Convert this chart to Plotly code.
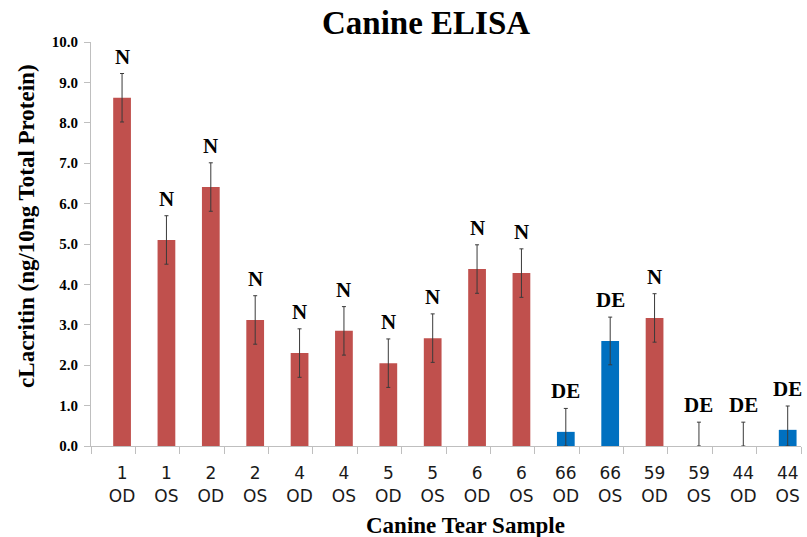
import plotly.graph_objects as go

# Canine tear samples (dog number / eye)
dogs = ["1", "1", "2", "2", "4", "4", "5", "5", "6", "6", "66", "66", "59", "59", "44", "44"]
eyes = ["OD", "OS", "OD", "OS", "OD", "OS", "OD", "OS", "OD", "OS", "OD", "OS", "OD", "OS", "OD", "OS"]

# cLacritin per 10 ng total protein, with error
values = [8.62, 5.10, 6.41, 3.12, 2.30, 2.85, 2.05, 2.67, 4.38, 4.28, 0.35, 2.60, 3.17, 0.0, 0.0, 0.40]
errors = [0.60, 0.60, 0.60, 0.60, 0.60, 0.60, 0.60, 0.60, 0.60, 0.60, 0.58, 0.59, 0.60, 0.59, 0.59, 0.59]

# Status: N = normal, DE = dry eye
status = ["N", "N", "N", "N", "N", "N", "N", "N", "N", "N", "DE", "DE", "N", "DE", "DE", "DE"]

colors = {"N": "#C0504D", "DE": "#0070C0"}
serif = "Liberation Serif"

x = list(range(len(values)))
ticktext = [f"{d}<br>{e}" for d, e in zip(dogs, eyes)]
err_minus = [min(e, v) for e, v in zip(errors, values)]

fig = go.Figure()
fig.add_trace(go.Bar(
    x=x,
    y=values,
    width=0.4,
    marker=dict(color=[colors[s] for s in status], line=dict(width=0)),
    error_y=dict(type="data", array=errors, arrayminus=err_minus, symmetric=False,
                 color="#3a3a3a", thickness=1, width=2),
    showlegend=False,
    hoverinfo="skip",
))

annotations = []
for xi, v, e, s in zip(x, values, errors, status):
    annotations.append(dict(
        x=xi, y=v + e, xref="x", yref="y", text=s, showarrow=False,
        yanchor="bottom", yshift=3,
        font=dict(family=serif, size=21, color="#000000", weight="bold"),
    ))

annotations += [
    dict(text="Canine ELISA", x=0.472, y=1.047, xref="paper", yref="paper",
         showarrow=False, xanchor="center", yanchor="middle",
         font=dict(family=serif, size=33, color="#000000", weight="bold")),
    dict(text="Canine Tear Sample", x=0.528, y=-0.196, xref="paper", yref="paper",
         showarrow=False, xanchor="center", yanchor="middle",
         font=dict(family=serif, size=23, color="#000000", weight="bold")),
    dict(text="cLacritin (ng/10ng Total Protein)", x=-0.09, y=0.545, xref="paper", yref="paper",
         showarrow=False, xanchor="center", yanchor="middle", textangle=-90,
         font=dict(family=serif, size=23, color="#000000", weight="bold")),
]

fig.update_layout(
    width=807, height=537,
    margin=dict(l=91, r=6, t=42, b=91),
    paper_bgcolor="white", plot_bgcolor="white",
    annotations=annotations,
    bargap=0.6,
)

fig.update_xaxes(
    range=[-0.7, 15.3],
    tickmode="array", tickvals=x, ticktext=ticktext,
    ticks="", ticklabelstandoff=12,
    tickfont=dict(family="DejaVu Sans", size=17, color="#1a1a1a"),
    showline=True, linecolor="#bfbfbf", linewidth=1,
    showgrid=False, zeroline=False,
    minor=dict(tick0=-0.7, dtick=1, ticks="outside", ticklen=7, tickcolor="#bfbfbf", showgrid=False),
)

fig.update_yaxes(
    range=[0, 10], dtick=1, tickformat=".1f",
    ticks="outside", ticklen=6, tickcolor="#bfbfbf",
    ticklabelstandoff=3,
    tickfont=dict(family=serif, size=15, color="#000000", weight="bold"),
    showline=True, linecolor="#bfbfbf", linewidth=1,
    showgrid=False, zeroline=False,
)

fig.write_html("out.html")
